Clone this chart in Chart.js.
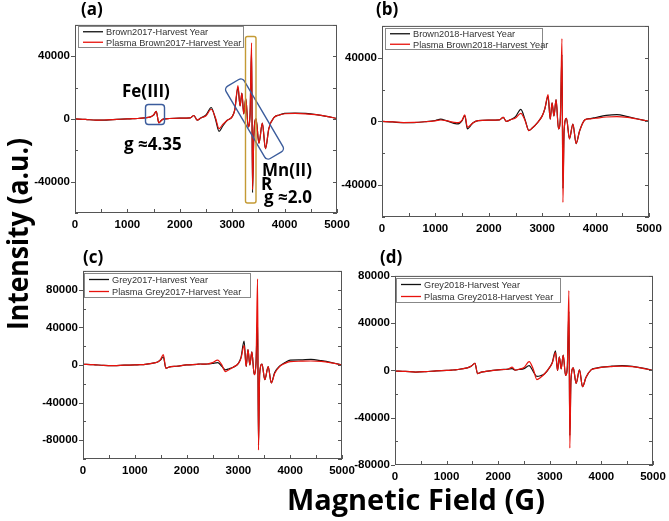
<!DOCTYPE html>
<html>
<head>
<meta charset="utf-8">
<script src="https://cdn.jsdelivr.net/npm/chart.js@4.4.1/dist/chart.umd.min.js"></script>
<style>
  body { margin: 0; background: #fff; width: 669px; height: 521px; position: relative; overflow: hidden; }
  canvas { position: absolute; }
  #overlay { position: absolute; left: 0; top: 0; pointer-events: none; }
</style>
</head>
<body>
<svg id="overlay" width="669" height="521" xmlns="http://www.w3.org/2000/svg"></svg>
<script>
// magnetic field (G), shared by every spectrum
const field = [0, 200, 400, 600, 800, 1000, 1100, 1200, 1400, 1450,
  1500, 1550, 1600, 1650, 1700, 1800, 2000, 2200, 2270, 2330,
  2400, 2500, 2600, 2680, 2750, 2820, 2900, 3000, 3050, 3110,
  3150, 3185, 3220, 3260, 3305, 3340, 3370, 3388, 3410, 3455,
  3510, 3575, 3635, 3700, 3800, 3900, 4000, 4200, 4400, 4600,
  4800, 5000];

// (a)
const brown2017 = [0, -300, -800, -700, -300, 0, 200, 300, 1000, 1500,
  2500, 4800, -2500, -800, 0, 300, 500, 700, 2200, -800,
  600, 2500, 7300, 0, -7900, -4500, -1000, 1500, 6000, 20000,
  8300, 16500, 3300, 13000, -5000, 2000, 44000, -47000, -13500, 0,
  -15500, -2700, -19000, -6000, 1000, 2500, 3500, 3800, 3500, 2800,
  1700, 300];
const plasmaBrown2017 = [0, -300, -800, -600, -300, 0, 200, 300, 1000, 1500,
  2500, 4800, -2500, -800, 0, 300, 500, 700, 2200, -800,
  600, 2000, 6200, 800, -6200, -3500, -1000, 1500, 6000, 21300,
  8300, 16500, 3300, 13000, -5000, 2000, 48500, -45000, -13500, 0,
  -15500, -2700, -19000, -6000, 1000, 2500, 3300, 3600, 3300, 2700,
  1700, 300];

// (b)
const brown2018 = [0, -300, -800, -700, -200, 600, 1400, 500, -1500, -1200,
  500, 3600, -4700, -3000, -1000, 500, 800, 1000, 2500, 0,
  1000, 3000, 7600, 1000, -5700, -4000, -1200, 3500, 8000, 15800,
  1400, 11700, 3500, 13700, -4700, 2000, 42000, -42000, -6000, 2000,
  -10900, -1600, -13900, -6000, 1000, 1800, 2500, 3800, 4300, 3000,
  1500, 0];
const plasmaBrown2018 = [0, -300, -700, -600, -200, 400, 900, 500, -800, -600,
  800, 4100, -3700, -2500, -1000, 500, 800, 1000, 2500, 0,
  1000, 2200, 5100, 500, -5700, -4000, -1200, 3500, 8000, 16800,
  1400, 11700, 3500, 13700, -4700, 2000, 52000, -50800, -6000, 2000,
  -10900, -1600, -13900, -6000, 1000, 1600, 2000, 2800, 3000, 2500,
  1400, 0];

// (c)
const grey2017 = [700, 300, -500, -700, -200, 0, 300, 700, 2400, 3500,
  5500, 8700, -3500, -2500, -1800, -1400, 0, 700, 1000, 800,
  1000, 1700, 2400, -1500, -5200, -4000, -2400, 1700, 8000, 25400,
  -1700, 16400, 0, 13900, -10400, 2000, 48700, -85000, -10000, 1000,
  -15700, -1700, -19100, -8000, -1000, 2500, 5200, 5500, 5900, 4500,
  2500, 0];
const plasmaGrey2017 = [700, 300, -500, -700, -200, 0, 300, 700, 2400, 3500,
  6000, 11100, -3500, -2500, -1800, -1400, 0, 700, 1000, 800,
  1000, 2500, 5200, 0, -7000, -5000, -2400, 1700, 7000, 20900,
  -1700, 16400, 0, 13900, -10400, 2000, 91500, -90500, -10000, 1000,
  -15700, -1700, -19100, -9000, -1500, 1700, 3500, 4000, 4200, 3800,
  2200, 0];

// (d)
const grey2018 = [-500, -800, -1400, -1000, -300, 0, 300, 700, 2200, 3000,
  4500, 6100, -2800, -1800, -1200, -500, 500, 1200, 1500, 300,
  800, 1500, 4100, -1000, -5000, -4500, -2800, 2800, 7000, 16600,
  0, 11600, 1400, 13000, -4100, 3000, 50000, -55000, -8000, 2200,
  -11000, 500, -13800, -6000, 500, 2000, 2800, 3600, 4100, 3500,
  2000, 0];
const plasmaGrey2018 = [-500, -800, -1400, -1000, -300, 0, 300, 700, 2200, 3000,
  4500, 6100, -2800, -1800, -1200, -500, 500, 1200, 2800, 300,
  1000, 2500, 7500, 1000, -7700, -6000, -2800, 2800, 6500, 15200,
  0, 11600, 1400, 13000, -4100, 3000, 67600, -65700, -8000, 2200,
  -11000, 500, -13800, -6000, 500, 1800, 2600, 3300, 3700, 3200,
  1800, 0];

const panelLabels = ['(a)', '(b)', '(c)', '(d)'];
const seriesNames = [
  ['Brown2017-Harvest Year', 'Plasma Brown2017-Harvest Year'],
  ['Brown2018-Harvest Year', 'Plasma Brown2018-Harvest Year'],
  ['Grey2017-Harvest Year', 'Plasma Grey2017-Harvest Year'],
  ['Grey2018-Harvest Year', 'Plasma Grey2018-Harvest Year']
];
const seriesValues = [
  [brown2017, plasmaBrown2017],
  [brown2018, plasmaBrown2018],
  [grey2017, plasmaGrey2017],
  [grey2018, plasmaGrey2018]
];
const yLimit = [60000, 60000, 100000, 80000];
const xTickStep = 500, xLabelStep = 1000;
const yTickStep = 20000, yLabelStep = 40000;

// layout (plot area of each panel, legend box)
const Y_W = 50, X_H = 24, PAD_T = 10, PAD_R = 20;
const boxes = [
  { l: 75, t: 23, r: 337, b: 213 },
  { l: 382, t: 24, r: 649, b: 217 },
  { l: 83, t: 269, r: 342, b: 459 },
  { l: 395, t: 274, r: 653, b: 465 }
];
const legends = [
  { x: 78, y: 26, w: 165, h: 21 },
  { x: 385, y: 28, w: 157, h: 21 },
  { x: 84, y: 273, w: 166, h: 24 },
  { x: 396, y: 278, w: 164, h: 24 }
];
const labelPos = [[81, 15], [376, 15], [83, 263], [380, 263]];

const colors = ['#111', '#e8120c'];
const tickFont = { family: 'Liberation Sans', size: 11.5, weight: 'bold' };

const framePlugin = {
  id: 'frame',
  afterDatasetsDraw(chart) {
    const { ctx, chartArea: a, scales: { x, y } } = chart;
    ctx.save();
    ctx.strokeStyle = '#555';
    ctx.lineWidth = 1;
    ctx.strokeRect(a.left + 0.5, a.top + 0.5, a.right - a.left - 1, a.bottom - a.top - 1);
    ctx.beginPath();
    for (let v = x.min; v <= x.max; v += xTickStep) {
      const px = Math.round(x.getPixelForValue(v)) + 0.5;
      ctx.moveTo(px, a.bottom);
      ctx.lineTo(px, a.bottom - 4);
    }
    for (let v = y.min; v <= y.max; v += yTickStep) {
      const py = Math.round(y.getPixelForValue(v)) + 0.5;
      if (v % yLabelStep === 0) {
        ctx.moveTo(a.left - 4, py); ctx.lineTo(a.left, py);
      } else {
        ctx.moveTo(a.left, py); ctx.lineTo(a.left + 3, py);
      }
      ctx.moveTo(a.right, py); ctx.lineTo(a.right - 4, py);
    }
    ctx.stroke();
    ctx.restore();
  }
};

function makePanel(i) {
  const bx = boxes[i];
  const canvas = document.createElement('canvas');
  const w = bx.r - bx.l + Y_W + PAD_R;
  const h = bx.b - bx.t + PAD_T + X_H;
  canvas.width = w; canvas.height = h;
  canvas.style.left = (bx.l - Y_W) + 'px';
  canvas.style.top = (bx.t - PAD_T) + 'px';
  canvas.style.width = w + 'px';
  canvas.style.height = h + 'px';
  document.body.insertBefore(canvas, document.getElementById('overlay'));

  const datasets = seriesValues[i].map((vals, k) => ({
    label: seriesNames[i][k],
    data: field.map((f, j) => ({ x: f, y: vals[j] })),
    borderColor: colors[k],
    borderWidth: 1.2,
    pointRadius: 0,
    cubicInterpolationMode: 'monotone',
    order: 2 - k
  }));

  new Chart(canvas, {
    type: 'line',
    data: { datasets },
    options: {
      responsive: false,
      animation: false,
      devicePixelRatio: 1,
      layout: { padding: { left: 0, top: PAD_T, right: PAD_R, bottom: 0 } },
      plugins: { legend: { display: false }, tooltip: { enabled: false } },
      scales: {
        x: {
          type: 'linear', min: 0, max: 5000,
          grid: { display: false, drawTicks: false },
          border: { display: false },
          ticks: {
            stepSize: xTickStep, autoSkip: false, maxRotation: 0, padding: 5,
            color: '#000', font: tickFont,
            callback: v => (v % xLabelStep === 0 ? v : '')
          },
          afterFit: s => { s.height = X_H; }
        },
        y: {
          min: -yLimit[i], max: yLimit[i],
          grid: { display: false, drawTicks: false },
          border: { display: false },
          ticks: {
            stepSize: yTickStep, autoSkip: false, padding: 5,
            color: '#000', font: tickFont,
            callback: v => (v % yLabelStep === 0 ? v : '')
          },
          afterFit: s => { s.width = Y_W; }
        }
      }
    },
    plugins: [framePlugin]
  });
}

const svg = document.getElementById('overlay');
const NS = 'http://www.w3.org/2000/svg';
function add(tag, attrs, text) {
  const el = document.createElementNS(NS, tag);
  for (const k in attrs) el.setAttribute(k, attrs[k]);
  if (text !== undefined) el.textContent = text;
  svg.appendChild(el);
  return el;
}
const bold = { 'font-family': 'Open Sans, sans-serif', 'font-weight': '700', fill: '#000' };

for (let i = 0; i < 4; i++) {
  makePanel(i);
  add('text', Object.assign({ x: labelPos[i][0], y: labelPos[i][1], 'font-size': 17 }, bold), panelLabels[i]);
  const lg = legends[i];
  add('rect', { x: lg.x + 0.5, y: lg.y + 0.5, width: lg.w, height: lg.h, fill: '#fff', stroke: '#888', 'stroke-width': 1 });
  const rowH = lg.h / 2;
  seriesNames[i].forEach((name, k) => {
    const cy = lg.y + rowH * (k + 0.5) + 0.5;
    add('line', { x1: lg.x + 5, x2: lg.x + 25, y1: cy, y2: cy, stroke: colors[k], 'stroke-width': 1.3 });
    add('text', { x: lg.x + 28, y: cy + 3.3, 'font-family': 'Liberation Sans, Arial', 'font-size': 9.2, fill: '#333' }, name);
  });
}

// axis titles
add('text', Object.assign({ x: 287, y: 510, 'font-size': 28, textLength: 258, lengthAdjust: 'spacingAndGlyphs' }, bold), 'Magnetic Field (G)');
add('text', Object.assign({ x: 0, y: 0, 'font-size': 28, textLength: 192, lengthAdjust: 'spacingAndGlyphs',
  transform: 'translate(28,330) rotate(-90)' }, bold), 'Intensity (a.u.)');

// annotations in (a)
add('rect', { x: 145.5, y: 104.5, width: 19, height: 20, rx: 3, fill: 'none', stroke: '#3b5c9c', 'stroke-width': 1.4 });
add('rect', { x: -42, y: -10.5, width: 84, height: 21, rx: 4, fill: 'none', stroke: '#3b5c9c', 'stroke-width': 1.4,
  transform: 'translate(254.5,119) rotate(59.5)' });
add('rect', { x: 245.5, y: 36.5, width: 10.5, height: 166.5, rx: 2, fill: 'none', stroke: '#c49a34', 'stroke-width': 1.4 });
add('text', Object.assign({ x: 122, y: 97, 'font-size': 17 }, bold), 'Fe(III)');
add('text', Object.assign({ x: 124, y: 150, 'font-size': 17 }, bold), 'g \u22484.35');
add('text', Object.assign({ x: 262, y: 176, 'font-size': 17 }, bold), 'Mn(II)');
add('text', Object.assign({ x: 261, y: 190, 'font-size': 17 }, bold), 'R');
add('text', Object.assign({ x: 264, y: 203, 'font-size': 17 }, bold), 'g \u22482.0');
</script>
</body>
</html>
